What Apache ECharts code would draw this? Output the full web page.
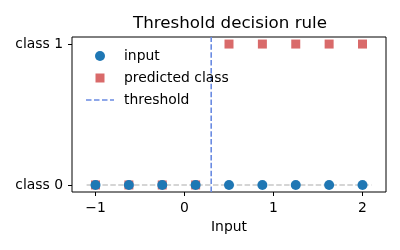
<!DOCTYPE html>
<html><head><meta charset="utf-8">
<script src="https://cdn.jsdelivr.net/npm/echarts@6/dist/echarts.min.js"></script>
<style>html,body{margin:0;padding:0;background:#fff}#c{width:400px;height:250px}</style>
</head><body><div id="c"></div>
<script>
const inputX = [-1, -0.625, -0.25, 0.125, 0.5, 0.875, 1.25, 1.625, 2];
const inputY = [0, 0, 0, 0, 0, 0, 0, 0, 0];
const predicted = [0, 0, 0, 0, 1, 1, 1, 1, 1];
const threshold = 0.3;
const baselineX = [-1.1, 2.1];
const xTicks = [-1, 0, 1, 2];
const yTicks = [0, 1];
const yTickLabels = ['class 0', 'class 1'];

const font = 'DejaVu Sans';
const box = 'M0,0L0,0M28,13L28,13';
const icons = {
  input: 'path://' + box + 'M19,6.5A5,5,0,1,1,9,6.5A5,5,0,1,1,19,6.5Z',
  predicted: 'path://' + box + 'M9.5,2L18.5,2L18.5,11L9.5,11Z',
  threshold: 'path://' + box + 'M0,5.75L5.5,5.75L5.5,7.25L0,7.25Z M8,5.75L13.5,5.75L13.5,7.25L8,7.25Z M16,5.75L21.5,5.75L21.5,7.25L16,7.25Z M24,5.75L28,5.75L28,7.25L24,7.25Z'
};
const chart = echarts.init(document.getElementById('c'), null, {renderer: 'canvas'});
chart.setOption({
  animation: false,
  title: {text: 'Threshold decision rule', left: 133, top: 15, padding: 0,
    textStyle: {fontFamily: font, fontSize: 16.7, fontWeight: 'normal', color: '#000'}},
  grid: {left: 72, right: 14, top: 37, bottom: 58, show: true, borderColor: '#000', borderWidth: 1, containLabel: false},
  legend: {
    orient: 'vertical', left: 81, top: 44, itemGap: 8, itemWidth: 28, itemHeight: 13,
    textStyle: {fontFamily: font, fontSize: 13.9, color: '#000', padding: [0, 0, 0, 5]},
    data: [{name: 'input', icon: icons.input}, {name: 'predicted class', icon: icons.predicted},
      {name: 'threshold', icon: icons.threshold}]
  },
  xAxis: {
    type: 'value', min: -1.264, max: 2.264,
    name: 'Input', nameLocation: 'middle', nameGap: 28,
    nameTextStyle: {fontFamily: font, fontSize: 13.9, color: '#000'},
    axisLine: {show: false, onZero: false}, splitLine: {show: false},
    axisTick: {show: true, length: 4, lineStyle: {color: '#000'}, customValues: xTicks},
    axisLabel: {fontFamily: font, fontSize: 13.9, color: '#000', margin: 9, customValues: xTicks,
      formatter: v => (v < 0 ? '\u2212' + Math.abs(v) : String(v))}
  },
  yAxis: {
    type: 'value', min: -0.05, max: 1.05,
    axisLine: {show: false, onZero: false}, splitLine: {show: false},
    axisTick: {show: true, length: 4, lineStyle: {color: '#000'}, customValues: yTicks},
    axisLabel: {fontFamily: font, fontSize: 13.9, color: '#000', margin: 9, customValues: yTicks,
      formatter: v => yTickLabels[yTicks.indexOf(Math.round(v))] || ''}
  },
  series: [
    {type: 'line', name: '_baseline', data: baselineX.map(x => [x, 0]), symbol: 'none', silent: true,
      lineStyle: {color: '#c8c8c8', width: 1.6, type: [5.5, 2.4]}, z: 1},
    {type: 'line', name: 'threshold', data: [[threshold, -0.05], [threshold, 1.05]], symbol: 'none',
      lineStyle: {color: '#6a8be2', width: 1.6, type: [5.5, 2.4]}, itemStyle: {color: '#6a8be2'}, z: 2},
    {type: 'scatter', name: 'predicted class', data: inputX.map((x, i) => [x, predicted[i]]),
      symbol: 'rect', symbolSize: 9, itemStyle: {color: '#d96a6a', opacity: 1}, z: 3},
    {type: 'scatter', name: 'input', data: inputX.map((x, i) => [x, inputY[i]]),
      symbol: 'circle', symbolSize: 10, itemStyle: {color: '#1f77b4', opacity: 1}, z: 4}
  ]
});
</script></body></html>
